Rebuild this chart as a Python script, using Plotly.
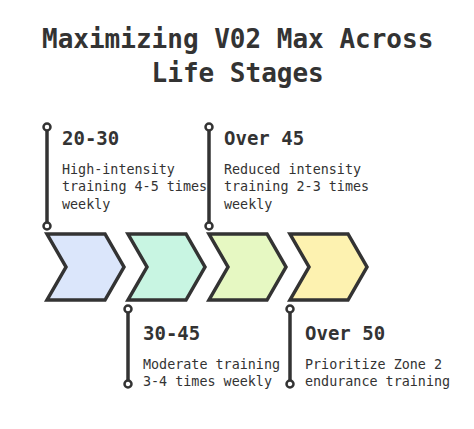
import plotly.graph_objects as go

stages = ["20-30", "30-45", "Over 45", "Over 50"]
descs = ["High-intensity<br>training 4-5 times<br>weekly",
         "Moderate training<br>3-4 times weekly",
         "Reduced intensity<br>training 2-3 times<br>weekly",
         "Prioritize Zone 2<br>endurance training"]
fills = ["#dbe6fb", "#c8f5e2", "#e6f8c2", "#fdf2b0"]
positions = ["top", "bottom", "top", "bottom"]

W, H = 474, 429
off = 8  # page body margin compensation
left0, step, width = 47, 81, 77
top, bot, notch = 234, 300, 19
ink = "#333333"
mono = "DejaVu Sans Mono"

fig = go.Figure()
shapes = []
for i, (s, d, c, p) in enumerate(zip(stages, descs, fills, positions)):
    x0 = left0 + i * step
    mid = (top + bot) / 2
    path = (f"M {x0} {top} L {x0+width-notch} {top} L {x0+width} {mid} "
            f"L {x0+width-notch} {bot} L {x0} {bot} L {x0+notch} {mid} Z")
    shapes.append(dict(type="path", path=path, fillcolor=c,
                       line=dict(color=ink, width=3.5), layer="below"))
    if p == "top":
        y1, y2, ty = 127, 226, 138
    else:
        y1, y2, ty = 309, 384, 333
    shapes.append(dict(type="line", x0=x0, x1=x0, y0=y1, y1=y2,
                       line=dict(color=ink, width=3.5)))
    for yy in (y1, y2):
        shapes.append(dict(type="circle", x0=x0-3.5, x1=x0+3.5, y0=yy-3.5, y1=yy+3.5,
                           fillcolor="white", line=dict(color=ink, width=2.5)))
    fig.add_annotation(x=x0+13, y=ty, text=f"<b>{s}</b>", xanchor="left", yanchor="middle",
                       showarrow=False, font=dict(family=mono, size=19, color=ink))
    fig.add_annotation(x=x0+13, y=ty+22, text=d, xanchor="left", yanchor="top", align="left",
                       showarrow=False, font=dict(family=mono, size=13.4, color=ink))

fig.add_annotation(x=W/2, y=56, text="<b>Maximizing V02 Max Across<br>Life Stages</b>",
                   showarrow=False, xanchor="center", yanchor="middle",
                   font=dict(family=mono, size=26, color=ink))

fig.update_layout(width=W, height=H, margin=dict(l=0, r=0, t=0, b=0),
                  paper_bgcolor="white", plot_bgcolor="white", shapes=shapes,
                  showlegend=False,
                  xaxis=dict(range=[off, W + off], visible=False, fixedrange=True),
                  yaxis=dict(range=[H + off, off], visible=False, fixedrange=True))
fig.write_html("out.html", config={"displayModeBar": False})
